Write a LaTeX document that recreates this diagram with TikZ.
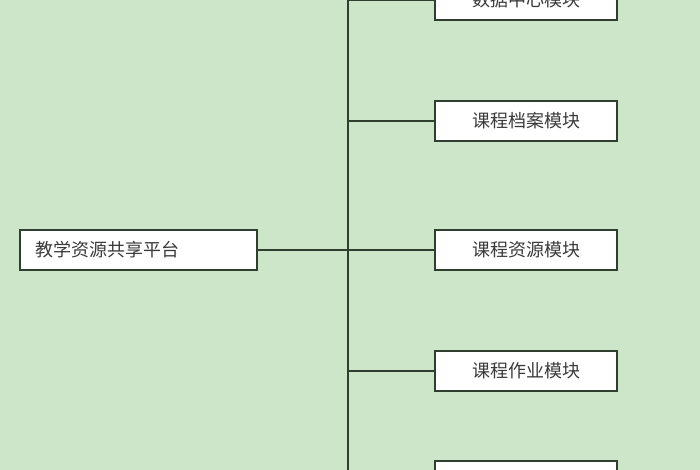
\documentclass[tikz,border=0pt]{standalone}
\usepackage{fontspec}
\newfontfamily\cjk{Noto Sans CJK SC}
\definecolor{bgc}{HTML}{CDE5C8}
\definecolor{linec}{HTML}{2F3F2F}
\definecolor{txtc}{HTML}{3A3A3A}
\begin{document}
\begin{tikzpicture}[x=1pt,y=-1pt,
  modbox/.style={draw=linec,line width=1.4pt,fill=white,minimum width=182pt,minimum height=40pt,inner sep=0pt,font=\cjk\fontsize{18}{20}\selectfont,text=txtc},
  rootbox/.style={draw=linec,line width=1.4pt,fill=white,minimum width=237pt,minimum height=40pt,inner sep=0pt,text width=207pt,align=left,font=\cjk\fontsize{18}{20}\selectfont,text=txtc},
  conn/.style={draw=linec,line width=1.3pt}]
\useasboundingbox (0,0) rectangle (700,470);
\fill[bgc] (0,0) rectangle (700,470);
\begin{scope}
\clip (0,0) rectangle (700,470);
\node[rootbox] (root) at (138.5,250) {教学资源共享平台};
\node[modbox] (m1) at (526,0) {数据中心模块};
\node[modbox] (m2) at (526,121) {课程档案模块};
\node[modbox] (m3) at (526,250) {课程资源模块};
\node[modbox] (m4) at (526,371) {课程作业模块};
\node[modbox] (m5) at (526,481) {};
\coordinate (top) at (348,-5);
\coordinate (bot) at (348,475);
\coordinate (j) at (348,250);
\draw[conn] (top) -- (bot);
\draw[conn] (root.east) -- (j);
\draw[conn] (m1.west) -- (m1.west -| top);
\draw[conn] (m2.west) -- (m2.west -| top);
\draw[conn] (m3.west) -- (m3.west -| top);
\draw[conn] (m4.west) -- (m4.west -| top);
\draw[conn] (m5.west) -- (m5.west -| top);
\end{scope}
\end{tikzpicture}
\end{document}
